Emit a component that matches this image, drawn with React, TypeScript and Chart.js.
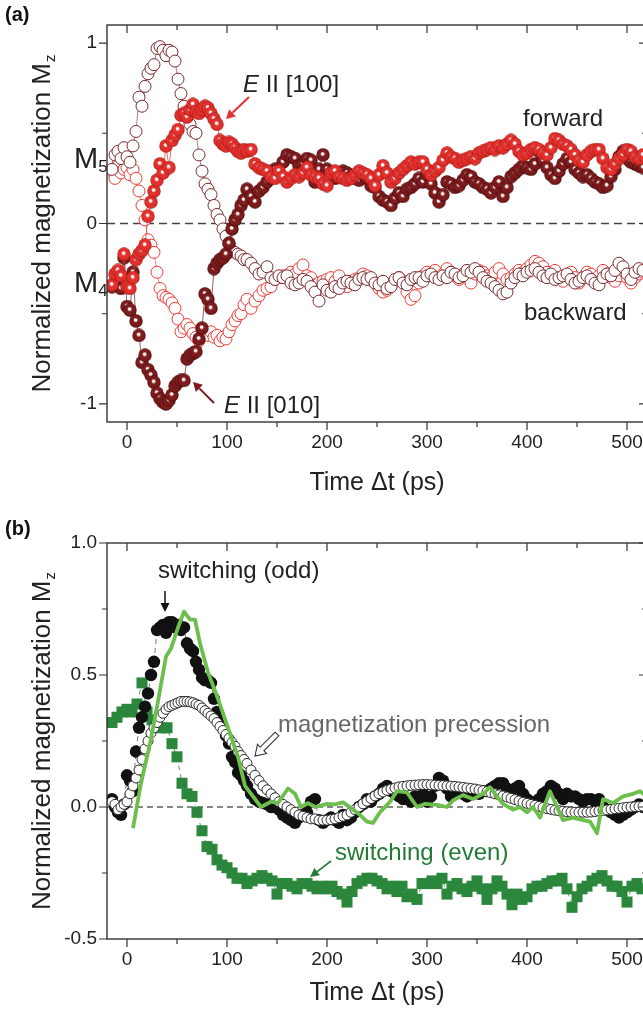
import React, { useEffect, useRef } from 'react';
import { Chart, registerables } from 'chart.js';

Chart.register(...registerables);

const FONT = '"Liberation Sans", Arial, Helvetica, sans-serif';
const INK = '#222222';

// ---- shared time axis ----
const xTicks = [0, 100, 200, 300, 400, 500];
const xMinor = [50, 150, 250, 350, 450];

// pump-probe delays (ps) of the circle data sets
const delays = [
  -15, -12, -9, -6, -3, 0, 3, 6, 9, 12,
  15, 18, 21, 24, 27, 30, 33, 36, 39, 42,
  45, 48, 51, 54, 57, 60, 63, 66, 69, 72,
  75, 78, 81, 84, 87, 90, 93, 96, 99, 102,
  105, 108, 111, 114, 117, 120,
  124, 128, 132, 136, 140, 144, 148, 152, 156, 160,
  164, 168, 172, 176, 180, 184, 188, 192, 196, 200,
  204, 208, 212, 216, 220, 224, 228, 232, 236, 240,
  244, 248, 252, 256, 260, 264, 268, 272, 276, 280,
  284, 288, 292, 296, 300, 304, 308, 312, 316, 320,
  324, 328, 332, 336, 340, 344, 348, 352, 356, 360,
  364, 368, 372, 376, 380, 384, 388, 392, 396, 400,
  404, 408, 412, 416, 420, 424, 428, 432, 436, 440,
  444, 448, 452, 456, 460, 464, 468, 472, 476, 480,
  484, 488, 492, 496, 500, 504, 508, 512, 516,
];

// ---- panel (a) ----
const yTicksA = [-1, 0, 1];
const yMinorA = [-0.5, 0.5];

// E || [100], forward (filled red)
const fwd100 = [
  -0.34, -0.28, -0.26, -0.29, -0.17, -0.35, -0.36, -0.3, -0.2, -0.17,
  -0.15, -0.12, 0.04, 0.12, 0.18, 0.24, 0.33, 0.28, 0.43, 0.31,
  0.46, 0.49, 0.52, 0.6, 0.61, 0.59, 0.63, 0.66, 0.62, 0.61,
  0.63, 0.65, 0.64, 0.61, 0.58, 0.55, 0.46, 0.44, 0.43, 0.45,
  0.44, 0.42, 0.4, 0.39, 0.41, 0.4,
  0.41, 0.33, 0.31, 0.3, 0.29, 0.26, 0.25, 0.29, 0.26, 0.23,
  0.25, 0.27, 0.26, 0.28, 0.31, 0.27, 0.26, 0.25, 0.22, 0.21,
  0.28, 0.29, 0.26, 0.25, 0.24, 0.25, 0.27, 0.29, 0.28, 0.27,
  0.25, 0.21, 0.27, 0.32, 0.28, 0.23, 0.25, 0.28, 0.3, 0.32,
  0.34, 0.33, 0.34, 0.34, 0.3, 0.27, 0.29, 0.31, 0.35, 0.39,
  0.37, 0.36, 0.34, 0.35, 0.36, 0.37, 0.36, 0.39, 0.4, 0.41,
  0.42, 0.41, 0.43, 0.42, 0.44, 0.46, 0.44, 0.4, 0.38, 0.39,
  0.41, 0.42, 0.41, 0.39, 0.38, 0.42, 0.47, 0.46, 0.44, 0.43,
  0.41, 0.38, 0.35, 0.34, 0.38, 0.4, 0.41, 0.41, 0.36, 0.31,
  0.3, 0.33, 0.36, 0.38, 0.41, 0.4, 0.37, 0.36, 0.38,
];

// E || [010], forward (filled dark red)
const fwd010 = [
  -0.35, -0.33, -0.32, -0.36, -0.19, -0.46, -0.48, -0.27, -0.54, -0.62,
  -0.77, -0.73, -0.81, -0.84, -0.88, -0.94, -0.97, -0.99, -1.0, -0.98,
  -0.95, -0.9, -0.88, -0.87, -0.87, -0.75, -0.73, -0.72, -0.71, -0.64,
  -0.58, -0.39, -0.42, -0.47, -0.25, -0.22, -0.2, -0.19, -0.17, -0.11,
  -0.03, 0.02, 0.05, 0.1, 0.13, 0.19,
  0.15, 0.12, 0.18, 0.2, 0.23, 0.25, 0.3, 0.27, 0.34, 0.38,
  0.37, 0.36, 0.32, 0.33, 0.36, 0.35, 0.23, 0.3, 0.38, 0.3,
  0.28, 0.25, 0.27, 0.29, 0.28, 0.26, 0.25, 0.24, 0.27, 0.25,
  0.21, 0.2, 0.15, 0.13, 0.12, 0.1, 0.14, 0.17, 0.15, 0.19,
  0.2, 0.22, 0.25, 0.23, 0.27, 0.22, 0.17, 0.12, 0.16, 0.23,
  0.22, 0.2, 0.21, 0.24, 0.27, 0.26, 0.23, 0.22, 0.2, 0.19,
  0.17, 0.2, 0.23, 0.15, 0.2, 0.26, 0.28, 0.3, 0.32, 0.31,
  0.3, 0.33, 0.4, 0.35, 0.31, 0.27, 0.25, 0.29, 0.33, 0.36,
  0.34, 0.3, 0.28, 0.26, 0.27, 0.25, 0.23, 0.22, 0.2, 0.21,
  0.26, 0.3, 0.37, 0.4, 0.36, 0.34, 0.33, 0.32, 0.31,
];

// E || [010], backward (open dark red)
const bwd010 = [
  0.3, 0.38, 0.4, 0.36, 0.42, 0.37, 0.34, 0.43, 0.51, 0.7,
  0.65, 0.76, 0.83, 0.86, 0.88, 0.97, 0.98, 0.96, 0.93, 0.96,
  0.95, 0.9, 0.8, 0.72, 0.65, 0.6, 0.55, 0.51, 0.5, 0.38,
  0.29, 0.22, 0.19, 0.16, 0.1, 0.05, 0.02, -0.03, -0.07, -0.11,
  -0.15, -0.16, -0.17, -0.18, -0.2, -0.2,
  -0.22, -0.25, -0.28, -0.27, -0.24, -0.3, -0.31, -0.29, -0.3, -0.29,
  -0.33, -0.34, -0.33, -0.31, -0.32, -0.35, -0.38, -0.43, -0.34, -0.37,
  -0.38, -0.35, -0.36, -0.33, -0.32, -0.33, -0.34, -0.31, -0.3, -0.31,
  -0.3, -0.33, -0.34, -0.32, -0.36, -0.35, -0.31, -0.3, -0.33, -0.34,
  -0.31, -0.3, -0.3, -0.32, -0.29, -0.28, -0.3, -0.31, -0.29, -0.3,
  -0.27, -0.28, -0.3, -0.29, -0.26, -0.27, -0.25, -0.27, -0.3, -0.32,
  -0.33, -0.35, -0.37, -0.39, -0.38, -0.33, -0.3, -0.28, -0.29, -0.27,
  -0.26, -0.25, -0.27, -0.29, -0.3, -0.28, -0.31, -0.3, -0.29, -0.28,
  -0.31, -0.33, -0.32, -0.3, -0.29, -0.31, -0.33, -0.34, -0.3, -0.28,
  -0.29, -0.26, -0.22, -0.24, -0.28, -0.31, -0.27, -0.25, -0.26,
];

// E || [100], backward (open red)
const bwd100 = [
  0.29, 0.25, 0.33, 0.28, 0.3, 0.31, 0.27, 0.3, 0.25, 0.18,
  0.1, 0.02, -0.09, -0.12, -0.16, -0.27, -0.36, -0.4, -0.41, -0.42,
  -0.44, -0.47, -0.53, -0.6, -0.58, -0.56, -0.58, -0.61, -0.63, -0.65,
  -0.62, -0.6, -0.62, -0.6, -0.63, -0.62, -0.65, -0.63, -0.64, -0.6,
  -0.56, -0.54, -0.51, -0.5, -0.45, -0.42,
  -0.47, -0.43, -0.4, -0.37, -0.36, -0.35, -0.31, -0.3, -0.29, -0.29,
  -0.27, -0.28, -0.25, -0.23, -0.29, -0.3, -0.34, -0.33, -0.32, -0.31,
  -0.3, -0.32, -0.29, -0.34, -0.35, -0.32, -0.31, -0.3, -0.28, -0.29,
  -0.31, -0.33, -0.36, -0.38, -0.37, -0.34, -0.32, -0.3, -0.32, -0.38,
  -0.42, -0.4, -0.33, -0.29, -0.27, -0.28, -0.26, -0.3, -0.28, -0.25,
  -0.27, -0.29, -0.31, -0.28, -0.3, -0.33, -0.28, -0.26, -0.27, -0.29,
  -0.3, -0.27, -0.25, -0.28, -0.31, -0.3, -0.28, -0.26, -0.27, -0.25,
  -0.23, -0.21, -0.22, -0.24, -0.27, -0.29, -0.26, -0.3, -0.32, -0.29,
  -0.27, -0.3, -0.33, -0.3, -0.27, -0.28, -0.31, -0.29, -0.26, -0.28,
  -0.3, -0.32, -0.29, -0.26, -0.3, -0.33, -0.3, -0.28, -0.27,
];

// ---- panel (b) ----
const yTicksB = [-0.5, 0, 0.5, 1.0];
const yMinorB = [-0.25, 0.25, 0.75];

// switching (odd), filled black circles
const switchOdd = [
  0.03, 0.0, -0.02, -0.03, 0.01, 0.12, 0.1, 0.06, 0.21, 0.3,
  0.34, 0.38, 0.43, 0.5, 0.55, 0.67, 0.68, 0.69, 0.66, 0.7,
  0.7, 0.68, 0.69, 0.67, 0.68, 0.62, 0.6, 0.59, 0.55, 0.52,
  0.49, 0.48, 0.48, 0.47, 0.41, 0.36, 0.33, 0.3, 0.27, 0.24,
  0.19, 0.17, 0.13, 0.12, 0.1, 0.08,
  0.05, 0.03, 0.02, 0.015, 0.01, 0.0, 0.0, -0.01, -0.03, -0.04,
  -0.05, -0.06, -0.04, -0.03, -0.02, 0.02, 0.03, -0.05, -0.06, -0.05,
  -0.04, -0.05, -0.06, -0.03, -0.05, -0.04, -0.02, 0.0, 0.01, 0.03,
  0.02, 0.04, 0.05, 0.07, 0.08, 0.06, 0.05, 0.04, 0.03, 0.03,
  0.02, 0.04, 0.03, 0.05, 0.02, 0.04, 0.08, 0.11, 0.1, 0.07,
  0.04, 0.05, 0.06, 0.05, 0.04, 0.05, 0.06, 0.05, 0.06, 0.06,
  0.07, 0.08, 0.09, 0.09, 0.07, 0.06, 0.07, 0.08, 0.05, 0.03,
  0.02, 0.015, 0.03, 0.05, 0.06, 0.08, 0.07, 0.05, 0.03, 0.05,
  0.04, 0.04, 0.03, 0.02, 0.03, 0.03, 0.02, 0.03, 0.0, -0.01,
  -0.02, -0.03, -0.04, -0.03, -0.02, -0.01, 0.0, 0.01, 0.0,
];

// magnetization precession, open circles
const precession = [
  0.02, 0.01, -0.01, 0.0, 0.01, 0.02, 0.05, 0.08, 0.11, 0.14,
  0.18, 0.22, 0.25, 0.28, 0.3, 0.32, 0.34, 0.355, 0.37, 0.38,
  0.385, 0.39, 0.395, 0.4, 0.4, 0.4, 0.398, 0.395, 0.39, 0.385,
  0.375, 0.365, 0.355, 0.345, 0.335, 0.32, 0.305, 0.29, 0.275, 0.26,
  0.245, 0.23, 0.21, 0.195, 0.18, 0.165,
  0.14, 0.12, 0.1, 0.08, 0.065, 0.05, 0.035, 0.02, 0.01, 0.0,
  -0.01, -0.02, -0.03, -0.035, -0.04, -0.045, -0.045, -0.05, -0.05, -0.05,
  -0.048, -0.045, -0.04, -0.035, -0.03, -0.02, -0.01, 0.0, 0.012, 0.022,
  0.032, 0.042, 0.05, 0.057, 0.063, 0.068, 0.072, 0.076, 0.078, 0.08,
  0.082, 0.083, 0.084, 0.085, 0.085, 0.084, 0.083, 0.082, 0.081, 0.08,
  0.079, 0.078, 0.076, 0.074, 0.072, 0.07, 0.068, 0.065, 0.062, 0.058,
  0.054, 0.05, 0.046, 0.042, 0.038, 0.033, 0.028, 0.023, 0.018, 0.014,
  0.01, 0.006, 0.002, -0.002, -0.006, -0.009, -0.012, -0.014, -0.016, -0.018,
  -0.019, -0.02, -0.02, -0.02, -0.02, -0.019, -0.017, -0.015, -0.013, -0.011,
  -0.009, -0.007, -0.005, -0.003, -0.001, 0.0, 0.001, 0.002, 0.003,
];

// switching (even), green squares on a 5 ps grid
const delaysEven = [
  -15, -10, -5, 0, 5, 10, 15, 20, 25, 30,
  35, 40, 45, 50, 55, 60, 65, 70, 75, 80,
  85, 90, 95, 100, 105, 110, 115, 120, 125, 130,
  135, 140, 145, 150, 155, 160, 165, 170, 175, 180,
  185, 190, 195, 200, 205, 210, 215, 220, 225, 230,
  235, 240, 245, 250, 255, 260, 265, 270, 275, 280,
  285, 290, 295, 300, 305, 310, 315, 320, 325, 330,
  335, 340, 345, 350, 355, 360, 365, 370, 375, 380,
  385, 390, 395, 400, 405, 410, 415, 420, 425, 430,
  435, 440, 445, 450, 455, 460, 465, 470, 475, 480,
  485, 490, 495, 500, 505, 510, 515,
];
const switchEven = [
  0.32, 0.34, 0.36, 0.37, 0.36, 0.39, 0.47, 0.36, 0.33, 0.31,
  0.3, 0.3, 0.24, 0.19, 0.09, 0.05, 0.04, -0.02, -0.09, -0.15,
  -0.16, -0.2, -0.22, -0.23, -0.25, -0.27, -0.27, -0.29, -0.28, -0.27,
  -0.26, -0.27, -0.28, -0.33, -0.29, -0.29, -0.3, -0.31, -0.29, -0.29,
  -0.3, -0.31, -0.3, -0.31, -0.3, -0.32, -0.33, -0.36, -0.32, -0.29,
  -0.28, -0.27, -0.27, -0.28, -0.29, -0.31, -0.3, -0.32, -0.3, -0.34,
  -0.33, -0.35, -0.29, -0.29, -0.28, -0.29, -0.27, -0.33, -0.3, -0.29,
  -0.31, -0.32, -0.3, -0.28, -0.31, -0.35, -0.31, -0.28, -0.3, -0.33,
  -0.37, -0.33, -0.35, -0.34, -0.31, -0.3, -0.3, -0.29, -0.28, -0.28,
  -0.27, -0.31, -0.38, -0.34, -0.31, -0.3, -0.28, -0.27, -0.26, -0.28,
  -0.3, -0.3, -0.32, -0.36, -0.3, -0.29, -0.31,
];

// difference trace, green line
const delaysLine = [
  6, 14, 23, 31, 39, 44, 51, 57, 63, 68,
  73, 81, 91, 101, 111, 118, 126, 134, 144, 151,
  161, 168, 174, 181, 188, 194, 200, 208, 216, 226,
  233, 240, 246, 253, 263, 270, 280, 290, 298, 310,
  320, 326, 336, 346, 356, 363, 370, 376, 386, 393,
  400, 406, 413, 423, 430, 436, 446, 456, 463, 470,
  476, 486, 496, 506, 513, 520,
];
const diffTrace = [
  -0.08, 0.09, 0.24, 0.4, 0.57, 0.6, 0.68, 0.74, 0.71, 0.71,
  0.62, 0.51, 0.41, 0.3, 0.19, 0.08, 0.04, 0.0, 0.02, 0.015,
  0.07, 0.05, 0.0, 0.015, 0.0, 0.005, 0.012, 0.01, 0.018, -0.01,
  -0.03, -0.055, -0.06, -0.02, 0.02, 0.06, 0.055, 0.0, 0.012, 0.008,
  0.0, 0.025, 0.045, 0.03, 0.05, 0.075, 0.04, 0.012, -0.01, 0.0,
  -0.02, 0.0, -0.04, 0.06, 0.0, -0.05, -0.04, -0.05, -0.055, -0.1,
  0.03, 0.015, 0.04, 0.05, 0.06, 0.04,
];

const pts = (t: number[], v: number[]) => v.map((y, i) => ({ x: t[i], y }));

// shaded sphere marker
function ball(base: string, rim: string, d: number): HTMLCanvasElement {
  const c = document.createElement('canvas');
  c.width = d;
  c.height = d;
  const g = c.getContext('2d')!;
  const r = d / 2 - 0.3;
  const grad = g.createRadialGradient(d / 2 - 0.5, d / 2 - 1.3, 0.2, d / 2, d / 2, r);
  grad.addColorStop(0, '#ffffff');
  grad.addColorStop(0.15, '#fbecec');
  grad.addColorStop(0.36, base);
  grad.addColorStop(0.78, base);
  grad.addColorStop(1, rim);
  g.fillStyle = grad;
  g.beginPath();
  g.arc(d / 2, d / 2, r, 0, Math.PI * 2);
  g.fill();
  return c;
}

function text(ctx: CanvasRenderingContext2D, s: string, x: number, y: number, size: number, color = INK, style = '') {
  ctx.font = `${style} ${size}px ${FONT}`.trim();
  ctx.fillStyle = color;
  ctx.textAlign = 'left';
  ctx.textBaseline = 'alphabetic';
  ctx.fillText(s, x, y);
  return ctx.measureText(s).width;
}

function arrow(ctx: CanvasRenderingContext2D, x1: number, y1: number, x2: number, y2: number, color: string, width: number, head: number, half: number) {
  const dx = x2 - x1, dy = y2 - y1, L = Math.hypot(dx, dy);
  const ux = dx / L, uy = dy / L, nx = -uy, ny = ux;
  const bx = x2 - ux * head, by = y2 - uy * head;
  ctx.strokeStyle = color;
  ctx.lineWidth = width;
  ctx.setLineDash([]);
  ctx.beginPath();
  ctx.moveTo(x1, y1);
  ctx.lineTo(bx, by);
  ctx.stroke();
  ctx.fillStyle = color;
  ctx.beginPath();
  ctx.moveTo(x2, y2);
  ctx.lineTo(bx + nx * half, by + ny * half);
  ctx.lineTo(bx - nx * half, by - ny * half);
  ctx.closePath();
  ctx.fill();
}

function hollowArrow(ctx: CanvasRenderingContext2D, x1: number, y1: number, x2: number, y2: number) {
  const dx = x2 - x1, dy = y2 - y1, L = Math.hypot(dx, dy);
  const ux = dx / L, uy = dy / L, nx = -uy, ny = ux;
  const head = 10, half = 6.5, sw = 2.6;
  const bx = x2 - ux * head, by = y2 - uy * head;
  ctx.beginPath();
  ctx.moveTo(x1 + nx * sw, y1 + ny * sw);
  ctx.lineTo(bx + nx * sw, by + ny * sw);
  ctx.lineTo(bx + nx * half, by + ny * half);
  ctx.lineTo(x2, y2);
  ctx.lineTo(bx - nx * half, by - ny * half);
  ctx.lineTo(bx - nx * sw, by - ny * sw);
  ctx.lineTo(x1 - nx * sw, y1 - ny * sw);
  ctx.closePath();
  ctx.fillStyle = '#ffffff';
  ctx.fill();
  ctx.strokeStyle = '#333333';
  ctx.lineWidth = 1.1;
  ctx.setLineDash([]);
  ctx.stroke();
}

// rotated axis title with subscript z
function yTitle(ctx: CanvasRenderingContext2D, baseX: number, cy: number) {
  const main = 'Normalized magnetization M';
  ctx.save();
  ctx.font = `26px ${FONT}`;
  const w1 = ctx.measureText(main).width;
  ctx.font = `15px ${FONT}`;
  const w2 = ctx.measureText('z').width;
  const total = w1 + w2 + 1;
  ctx.translate(baseX, cy);
  ctx.rotate(-Math.PI / 2);
  ctx.fillStyle = INK;
  ctx.textAlign = 'left';
  ctx.textBaseline = 'alphabetic';
  ctx.font = `26px ${FONT}`;
  ctx.fillText(main, -total / 2, 0);
  ctx.font = `15px ${FONT}`;
  ctx.fillText('z', -total / 2 + w1 + 1, 5);
  ctx.restore();
}

function framePlugin(
  yMajor: number[],
  yMinor: number[],
  zero: { color: string; width: number; dash: number[] },
  annotate: (ctx: CanvasRenderingContext2D, chart: any) => void,
) {
  return {
    id: 'frame',
    beforeDatasetsDraw(chart: any) {
      const { ctx, chartArea: a, scales } = chart;
      const y0 = scales.y.getPixelForValue(0);
      ctx.save();
      ctx.strokeStyle = zero.color;
      ctx.lineWidth = zero.width;
      ctx.setLineDash(zero.dash);
      ctx.beginPath();
      ctx.moveTo(a.left, y0);
      ctx.lineTo(a.right, y0);
      ctx.stroke();
      ctx.restore();
    },
    afterDraw(chart: any) {
      const { ctx, chartArea: a, scales } = chart;
      const sx = scales.x, sy = scales.y;
      ctx.save();
      ctx.setLineDash([]);
      ctx.strokeStyle = '#333333';
      ctx.lineWidth = 1.4;
      ctx.strokeRect(a.left, a.top, a.right - a.left, a.bottom - a.top);
      ctx.lineWidth = 1.2;
      ctx.beginPath();
      const xt = (v: number, len: number) => {
        const p = sx.getPixelForValue(v);
        ctx.moveTo(p, a.bottom);
        ctx.lineTo(p, a.bottom + len);
        ctx.moveTo(p, a.top);
        ctx.lineTo(p, a.top + len);
      };
      const yt = (v: number, len: number) => {
        const p = sy.getPixelForValue(v);
        ctx.moveTo(a.left, p);
        ctx.lineTo(a.left - len, p);
        ctx.moveTo(a.right, p);
        ctx.lineTo(a.right - len, p);
      };
      xTicks.forEach((v) => xt(v, 8));
      xMinor.forEach((v) => xt(v, 5));
      yMajor.forEach((v) => yt(v, 8));
      yMinor.forEach((v) => yt(v, 5));
      ctx.stroke();
      annotate(ctx, chart);
      ctx.restore();
    },
  };
}

function scales(yMin: number, yMax: number, yMajor: number[], yFmt: (v: number) => string, xHeight: number) {
  return {
    x: {
      type: 'linear',
      min: -20,
      max: 520,
      grid: { display: false, drawTicks: false },
      border: { display: false },
      ticks: { color: INK, font: { family: FONT, size: 19 }, padding: 9, maxRotation: 0, minRotation: 0, autoSkip: false },
      afterBuildTicks: (s: any) => {
        s.ticks = xTicks.map((value) => ({ value }));
      },
      afterFit: (s: any) => {
        s.height = xHeight;
      },
      title: {
        display: true,
        text: 'Time \u0394t (ps)',
        color: INK,
        font: { family: FONT, size: 25 },
        padding: { top: 0, bottom: 7 },
      },
    },
    y: {
      type: 'linear',
      min: yMin,
      max: yMax,
      grid: { display: false, drawTicks: false },
      border: { display: false },
      ticks: { color: INK, font: { family: FONT, size: 19 }, padding: 10, autoSkip: false, callback: (v: any) => yFmt(Number(v)) },
      afterBuildTicks: (s: any) => {
        s.ticks = yMajor.map((value) => ({ value }));
      },
      afterFit: (s: any) => {
        s.width = 107;
      },
    },
  };
}

const common = {
  responsive: false,
  animation: false,
  events: [],
  plugins: { legend: { display: false }, tooltip: { enabled: false } },
};

function configA(): any {
  const red = ball('#e3302c', '#a81c18', 14);
  const dark = ball('#7d1b1d', '#4a0b0d', 14);
  return {
    type: 'scatter',
    data: {
      datasets: [
        { data: pts(delays, fwd100), showLine: true, borderColor: '#d93a33', borderWidth: 0.7, pointStyle: red, pointRadius: 7 },
        { data: pts(delays, fwd010), showLine: true, borderColor: '#6e1a1c', borderWidth: 0.7, pointStyle: dark, pointRadius: 7 },
        {
          data: pts(delays, bwd010), showLine: true, borderColor: '#7a2a2c', borderWidth: 0.6,
          pointStyle: 'circle', pointRadius: 6, pointBorderWidth: 1, pointBackgroundColor: '#ffffff', pointBorderColor: '#7a2a2c',
        },
        {
          data: pts(delays, bwd100), showLine: true, borderColor: '#ee3a36', borderWidth: 0.6,
          pointStyle: 'circle', pointRadius: 6, pointBorderWidth: 1, pointBackgroundColor: '#ffffff', pointBorderColor: '#ee3a36',
        },
      ],
    },
    options: {
      ...common,
      layout: { padding: { top: 25, right: 13, left: 0, bottom: 0 } },
      scales: scales(-1.1, 1.1, yTicksA, (v) => String(v), 83),
    },
    plugins: [
      framePlugin(yTicksA, yMinorA, { color: '#444444', width: 1.6, dash: [8, 5] }, (ctx, chart) => {
        const a = chart.chartArea;
        text(ctx, '(a)', 5, 21, 20, '#111111', 'bold');
        let w = text(ctx, 'E', 243, 92, 24, INK, 'italic');
        text(ctx, ' II [100]', 243 + w, 92, 24);
        arrow(ctx, 249, 97, 226, 119, '#e2342e', 2, 9, 5);
        w = text(ctx, 'E', 224, 413, 24, INK, 'italic');
        text(ctx, ' II [010]', 224 + w, 413, 24);
        arrow(ctx, 214, 403, 193, 382, '#7d1b1d', 2, 9, 5);
        text(ctx, 'forward', 523, 126, 24);
        text(ctx, 'backward', 524, 320, 24);
        w = text(ctx, 'M', 74, 168, 29);
        text(ctx, '5', 74 + w, 172, 17);
        w = text(ctx, 'M', 74, 292, 29);
        text(ctx, '4', 74 + w, 296, 17);
        yTitle(ctx, 50, (a.top + a.bottom) / 2);
      }),
    ],
  };
}

function configB(): any {
  return {
    type: 'scatter',
    data: {
      datasets: [
        { data: pts(delaysLine, diffTrace), showLine: true, borderColor: '#6cbf4c', borderWidth: 3.8, pointRadius: 0, borderJoinStyle: 'round' },
        {
          data: pts(delays, precession), showLine: false,
          pointStyle: 'circle', pointRadius: 5, pointBorderWidth: 1, pointBackgroundColor: '#ffffff', pointBorderColor: '#2a2a2a',
        },
        {
          data: pts(delays, switchOdd), showLine: true, borderColor: '#555555', borderWidth: 0.8, borderDash: [5, 4],
          pointStyle: 'circle', pointRadius: 6.2, pointBorderWidth: 0, pointBackgroundColor: '#111111',
        },
        {
          data: pts(delaysEven, switchEven), showLine: true, borderColor: '#2a873c', borderWidth: 0.8, borderDash: [5, 4],
          pointStyle: 'rect', pointRadius: 7.8, pointBorderWidth: 0, pointBackgroundColor: '#2a873c',
        },
      ],
    },
    options: {
      ...common,
      layout: { padding: { top: 38, right: 13, left: 0, bottom: 0 } },
      scales: scales(-0.5, 1.0, yTicksB, (v) => v.toFixed(1), 76),
    },
    plugins: [
      framePlugin(yTicksB, yMinorB, { color: '#111111', width: 1, dash: [6, 4] }, (ctx, chart) => {
        const a = chart.chartArea;
        text(ctx, '(b)', 5, 30, 20, '#111111', 'bold');
        text(ctx, 'switching (odd)', 158, 73, 24);
        arrow(ctx, 165, 86, 165, 107, '#111111', 1.5, 9, 4.5);
        text(ctx, 'magnetization precession', 278, 227, 24, '#666666');
        hollowArrow(ctx, 277, 229, 255, 251);
        text(ctx, 'switching (even)', 335, 355, 24, '#217a35');
        arrow(ctx, 331, 356, 310, 372, '#217a35', 1.6, 9, 4.5);
        yTitle(ctx, 50, (a.top + a.bottom) / 2);
      }),
    ],
  };
}

function Panel({ make, top, height }: { make: () => any; top: number; height: number }) {
  const ref = useRef<HTMLCanvasElement>(null);
  useEffect(() => {
    const chart = new Chart(ref.current!, make());
    return () => chart.destroy();
  }, []);
  return (
    <canvas
      ref={ref}
      width={660}
      height={height}
      style={{ position: 'absolute', left: 0, top, width: 660, height }}
    />
  );
}

export default function App() {
  return (
    <div
      style={{
        position: 'fixed',
        left: 0,
        top: 0,
        width: 643,
        height: 1015,
        overflow: 'hidden',
        background: '#ffffff',
      }}
    >
      <Panel make={configA} top={0} height={505} />
      <Panel make={configB} top={505} height={510} />
    </div>
  );
}
